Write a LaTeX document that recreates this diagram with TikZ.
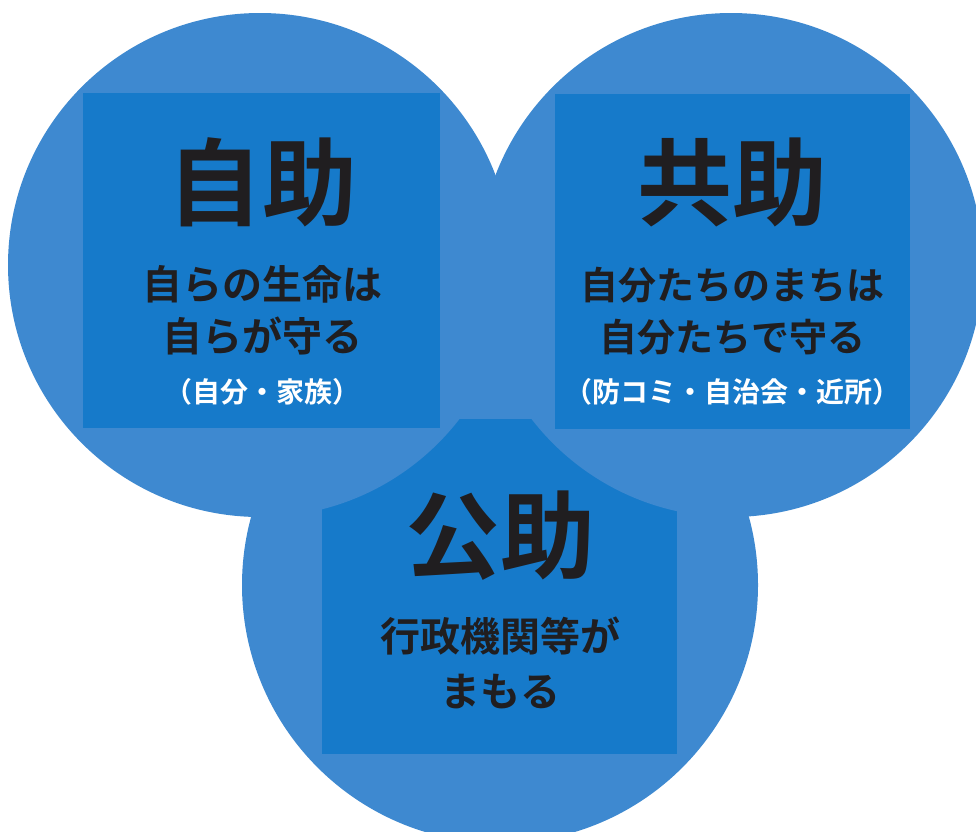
\documentclass[tikz,border=0pt]{standalone}
\usepackage{fontspec}
\newfontfamily\jp{Noto Sans CJK JP}[BoldFont={* Bold}]
\definecolor{lightblue}{RGB}{62,137,208}
\definecolor{boxblue}{RGB}{22,122,202}
\definecolor{ink}{RGB}{32,30,32}
\begin{document}
\begin{tikzpicture}[x=1pt,y=-1pt,
  circ/.style={fill=lightblue},
  panel/.style={fill=boxblue},
  head/.style={inner sep=0pt,anchor=base,text=ink,font=\jp\bfseries\fontsize{95}{95}\selectfont},
  body/.style={inner sep=0pt,anchor=base,text=ink,font=\jp\bfseries\fontsize{40}{40}\selectfont},
  bodyr/.style={inner sep=0pt,anchor=base,text=ink,font=\jp\bfseries\fontsize{38}{38}\selectfont},
  paren/.style={inner sep=0pt,anchor=base,text=white,font=\jp\bfseries\fontsize{28}{28}\selectfont}]
\useasboundingbox (0,0) rectangle (976,831);
\clip (0,0) rectangle (976,831);
% bottom circle and its panel
\fill[circ] (500,585) circle[radius=258];
\fill[panel] (322,419) rectangle (677,754);
% left and right circles
\fill[circ] (260,265) circle[radius=252];
\fill[circ] (731,265) circle[radius=252];
% top panels
\fill[panel] (83,93) rectangle (440,428);
\fill[panel] (555,94) rectangle (910,429);
% texts: left
\node[head] (jh) at (262,218) {自助};
\node[body] (j1) at (262,299) {自らの生命は};
\node[body] (j2) at (262,351) {自らが守る};
\node[paren] (j3) at (262,402) {（自分・家族）};
% texts: right
\node[head] (kh) at (732,218) {共助};
\node[bodyr] (k1) at (732,299) {自分たちのまちは};
\node[bodyr] (k2) at (732,351) {自分たちで守る};
\node[paren] (k3) at (732,402) {（防コミ・自治会・近所）};
% texts: bottom
\node[head] (gh) at (500,571) {公助};
\node[body] (g1) at (500,651) {行政機関等が};
\node[body] (g2) at (500,706) {まもる};
\end{tikzpicture}
\end{document}
